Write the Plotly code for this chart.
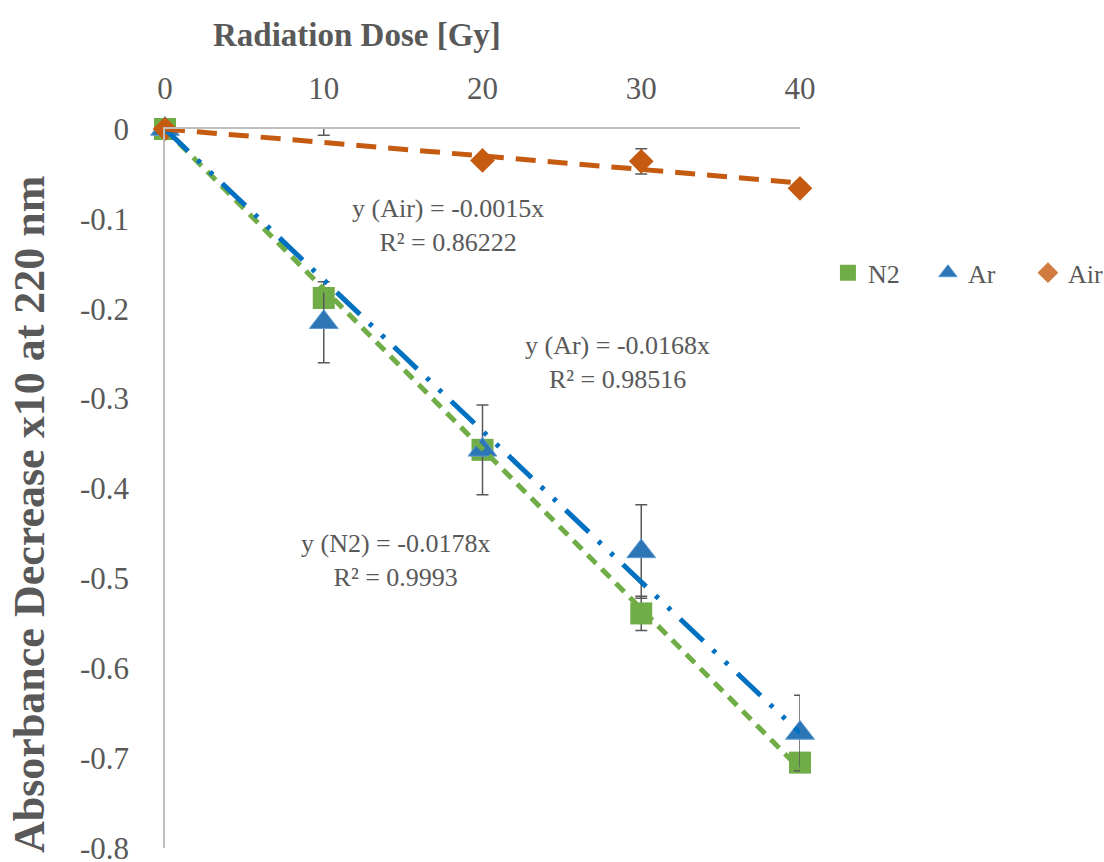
import plotly.graph_objects as go

# ---- data ----
dose = [0, 10, 20, 30, 40]
n2 = [0.0, -0.188, -0.357, -0.539, -0.705]
n2_err = [0.0, 0.010, 0.010, 0.019, 0.008]
ar = [0.0, -0.215, -0.357, -0.470, -0.672]
ar_err = [0.0, 0.045, 0.050, 0.052, 0.042]
air = [0.0, 0.015, -0.035, -0.036, -0.066]
air_err = [0.0, 0.022, 0.005, 0.014, 0.005]

slope_n2 = -0.0178
slope_ar = -0.0168
slope_air = -0.0015

x_ticks = [0, 10, 20, 30, 40]
x_ticktext = ["0", "10", "20", "30", "40"]
y_ticks = [0, -0.1, -0.2, -0.3, -0.4, -0.5, -0.6, -0.7, -0.8]
y_ticktext = ["0", "-0.1", "-0.2", "-0.3", "-0.4", "-0.5", "-0.6", "-0.7", "-0.8"]

GREEN = "#70AD47"
BLUE = "#2E75B6"
BLUE_LINE = "#0070C0"
ORANGE = "#C55A11"
GREY = "#595959"
FONT = "Liberation Serif"

fig = go.Figure()


def err(vals):
    return dict(type="data", array=vals, visible=True, color=GREY, thickness=1.5, width=6)


fig.add_trace(go.Scatter(x=dose, y=n2, mode="markers", name="N2", cliponaxis=False,
                         marker=dict(symbol="square", size=22, color=GREEN),
                         error_y=err(n2_err)))
fig.add_trace(go.Scatter(x=dose, y=ar, mode="markers", name="Ar", cliponaxis=False,
                         marker=dict(symbol="triangle-up", size=25, color=BLUE,
                                     line=dict(color="#5B9BD5", width=1)),
                         error_y=err(ar_err)))
# markers outside the axis range (above 0) are hidden, as in the original
air_opacity = [1 if v <= 0 else 0 for v in air]
fig.add_trace(go.Scatter(x=dose, y=air, mode="markers", name="Air", cliponaxis=False,
                         marker=dict(symbol="diamond", size=19, color=ORANGE, opacity=air_opacity),
                         error_y=err(air_err)))

# trendlines (through origin)
x_fit = [dose[0], dose[-1]]
fig.add_trace(go.Scatter(x=x_fit, y=[slope_n2 * v for v in x_fit], mode="lines", showlegend=False,
                         line=dict(color=GREEN, width=5, dash="12px,8px"), hoverinfo="skip"))
fig.add_trace(go.Scatter(x=x_fit, y=[slope_ar * v for v in x_fit], mode="lines", showlegend=False,
                         line=dict(color=BLUE_LINE, width=5, dash="32px,13px,4px,13px,4px,13px"),
                         hoverinfo="skip"))
fig.add_trace(go.Scatter(x=x_fit, y=[slope_air * v for v in x_fit], mode="lines", showlegend=False,
                         line=dict(color=ORANGE, width=5, dash="20px,12px"), hoverinfo="skip"))

fig.update_layout(
    width=1104, height=862,
    margin=dict(l=165, r=304, t=129, b=14, autoexpand=False),
    paper_bgcolor="white", plot_bgcolor="white",
    font=dict(family=FONT, color=GREY),
    showlegend=True,
    legend=dict(orientation="h", x=1.044, y=0.80, xanchor="left", yanchor="middle",
                font=dict(family=FONT, size=26, color=GREY), entrywidth=55, itemwidth=30,
                bgcolor="rgba(0,0,0,0)"),
    xaxis=dict(range=[0, 40], side="top", tickvals=x_ticks, ticktext=x_ticktext,
               showline=True, linecolor="#BFBFBF", linewidth=1.5, showgrid=False, zeroline=False,
               ticks="", tickfont=dict(family=FONT, size=31, color=GREY), ticklabelstandoff=16),
    yaxis=dict(range=[-0.8, 0], tickvals=y_ticks, ticktext=y_ticktext, ticklabeloverflow="allow",
               showline=True, linecolor="#BFBFBF", linewidth=1.5, showgrid=False, zeroline=False,
               ticks="", tickfont=dict(family=FONT, size=31, color=GREY), ticklabelstandoff=28),
    annotations=[
        dict(text="<b>Radiation Dose [Gy]</b>", xref="paper", yref="paper", x=(357 - 165) / 635,
             y=(848 - 35) / 719, xanchor="center", yanchor="middle", showarrow=False,
             font=dict(family=FONT, size=33, color=GREY)),
        dict(text="<b>Absorbance Decrease x10 at 220 nm</b>", xref="paper", yref="paper",
             x=(29 - 165) / 635, y=(848 - 515) / 719, xanchor="center", yanchor="middle",
             textangle=-90, showarrow=False, font=dict(family=FONT, size=44, color=GREY)),
        dict(text="y (Air) = -0.0015x<br>R² = 0.86222", x=17.8, y=-0.107, showarrow=False,
             xanchor="center", yanchor="middle", font=dict(family=FONT, size=26, color=GREY)),
        dict(text="y (Ar) = -0.0168x<br>R² = 0.98516", x=28.5, y=-0.260, showarrow=False,
             xanchor="center", yanchor="middle", font=dict(family=FONT, size=26, color=GREY)),
        dict(text="y (N2) = -0.0178x<br>R² = 0.9993", x=14.55, y=-0.4805, showarrow=False,
             xanchor="center", yanchor="middle", font=dict(family=FONT, size=26, color=GREY)),
    ],
)

fig.write_html("out.html")
